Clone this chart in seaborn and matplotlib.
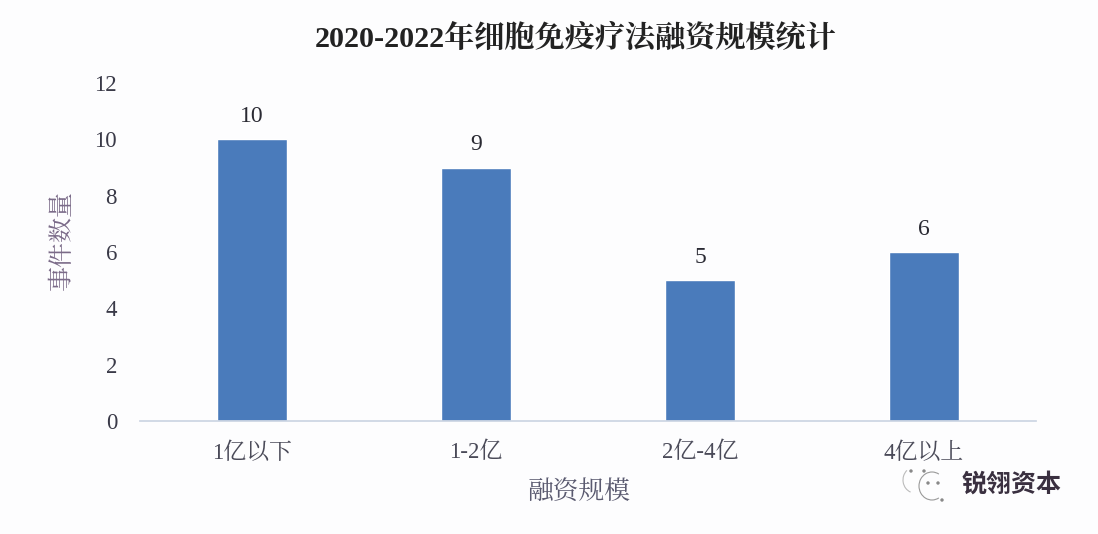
import matplotlib
matplotlib.use("Agg")
import matplotlib.pyplot as plt
from matplotlib.patches import Arc, Circle
import pandas as pd
import seaborn as sns

# Financing size categories and deal counts
categories = ["1亿以下", "1-2亿", "2亿-4亿", "4亿以上"]
counts = [10, 9, 5, 6]
y_ticks = [0, 2, 4, 6, 8, 10, 12]

title = "2020-2022年细胞免疫疗法融资规模统计"
x_name = "融资规模"
y_name = "事件数量"
watermark = "锐翎资本"

W, H = 1098, 534
BG = "#fdfdfe"
SERIF = ["Liberation Serif", "Noto Serif CJK SC", "Noto Sans CJK SC"]

sns.set_theme(style="white")
plt.rcParams["font.family"] = ["Noto Sans CJK SC", "DejaVu Sans"]

df = pd.DataFrame({"size": categories, "count": counts})

fig = plt.figure(figsize=(W / 100, H / 100), dpi=100, facecolor=BG)
ax = fig.add_axes([140 / W, 1 - 421 / H, (1036 - 140) / W, (421 - 83) / H], facecolor=BG)

sns.barplot(data=df, x="size", y="count", color="#4a7bbb", saturation=1, width=0.31, ax=ax)

# Value labels above the bars
for bar, val in zip(ax.patches, counts):
    ax.text(bar.get_x() + bar.get_width() / 2, val + 0.8, str(val),
            ha="center", va="center", fontsize=17, color="#2a2a33",
            family="Liberation Serif")

ax.set_ylim(0, 12)
ax.set_xlim(-0.5, 3.5)
ax.set_yticks(y_ticks)
ax.set_yticklabels(y_ticks, fontsize=16.5, color="#3a3a48", family="Liberation Serif")
ax.set_xticks(range(len(categories)))
ax.set_xticklabels(categories, fontsize=16.5, color="#4a4a58", family=SERIF)
ax.tick_params(axis="x", length=0, pad=15)
ax.tick_params(axis="y", length=0, pad=16.5)
ax.set_xlabel("")
ax.set_ylabel("")
sns.despine(ax=ax, left=True)
ax.spines["bottom"].set_color("#ccd5e3")

fig.text(576 / W, 1 - 37 / H, title, ha="center", va="center",
         fontsize=21.7, fontweight="bold", color="#222222", family=SERIF)
fig.text(579 / W, 1 - 492 / H, x_name, ha="center", va="center",
         fontsize=18.5, color="#5a5a70", family=SERIF)
fig.text(62 / W, 1 - 240 / H, y_name, ha="center", va="center",
         fontsize=18, color="#7a6a88", rotation=90, family=SERIF)
fig.text(1012 / W, 1 - 485 / H, watermark, ha="center", va="center",
         fontsize=18, fontweight="bold", color="#3a3040", family="Noto Sans CJK SC")

# Faint round logo left of the watermark
overlay = fig.add_axes([0, 0, 1, 1], facecolor="none")
overlay.set_xlim(0, W)
overlay.set_ylim(H, 0)
overlay.axis("off")
overlay.add_patch(Arc((932, 486), 26, 28, theta1=60, theta2=300, color="#999999", lw=0.8))
overlay.add_patch(Arc((915, 480), 24, 26, theta1=110, theta2=230, color="#bbbbbb", lw=0.8))
for px, py in [(911, 471), (924, 471), (928, 483), (938, 483), (942, 500)]:
    overlay.add_patch(Circle((px, py), 1, color="#888888"))

fig.savefig("out.png", dpi=100, facecolor=BG)
